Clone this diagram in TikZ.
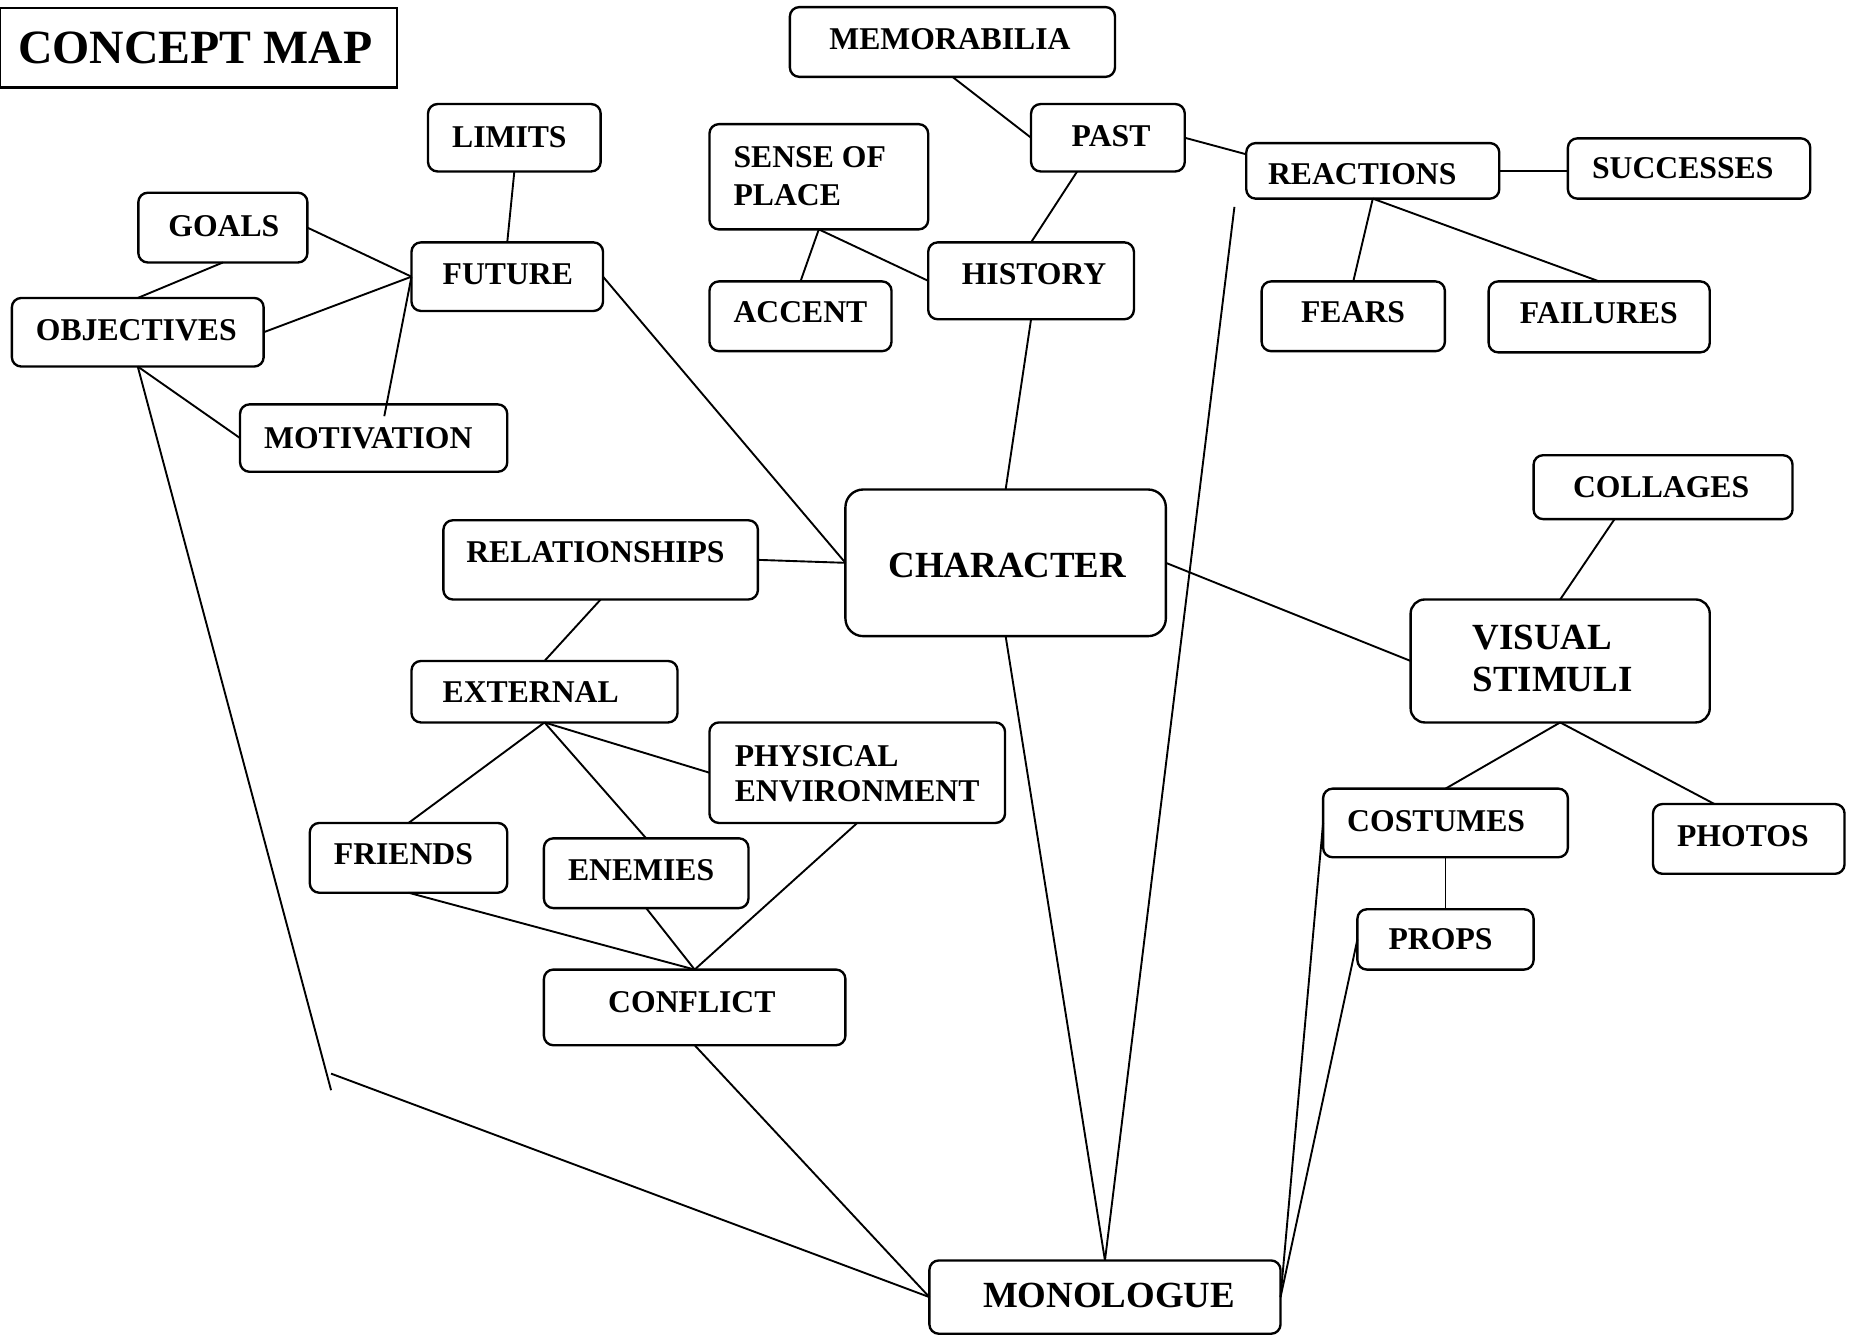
\documentclass[tikz,border=0pt]{standalone}
\usepackage{fontspec}
\setmainfont{Liberation Serif}
\usetikzlibrary{calc}
\tikzset{
  cbox/.style={draw, line width=1pt, rounded corners=4pt, inner sep=0pt, outer sep=0pt},
  lbl/.style={anchor=base west, inner sep=0pt, font=\bfseries\fontsize{13.4}{16}\selectfont},
  biglbl/.style={anchor=base west, inner sep=0pt, font=\bfseries\fontsize{15.6}{18}\selectfont},
  titlelbl/.style={anchor=base west, inner sep=0pt, font=\bfseries\fontsize{20.2}{24}\selectfont},
  conn/.style={line width=0.8pt},
}
\newcommand\cb[6][]{\node[cbox,#1,minimum width={(#5-#3)*0.5pt},minimum height={(#6-#4)*0.5pt}] (#2) at ({(#3+#5)/2},{(#4+#6)/2}) {};}
\begin{document}
\begin{tikzpicture}[x=0.5pt,y=-0.5pt]
\useasboundingbox (0,0) rectangle (1568,1129);
% boxes
\cb[sharp corners]{title}{0}{7}{336}{74}
\cb{limits}{362}{88}{508}{145}
\cb{goals}{117}{163}{260}{222}
\cb{future}{348}{205}{510}{263}
\cb{objectives}{10}{252}{223}{310}
\cb{motivation}{203}{342}{429}{399}
\cb{memorabilia}{668}{6}{943}{65}
\cb{past}{872}{88}{1002}{145}
\cb{sense}{600}{105}{785}{194}
\cb{accent}{600}{238}{754}{297}
\cb{history}{785}{205}{959}{270}
\cb{reactions}{1054}{121}{1268}{168}
\cb{successes}{1326}{117}{1531}{168}
\cb{fears}{1067}{238}{1222}{297}
\cb{failures}{1259}{238}{1446}{298}
\cb[rounded corners=7.5pt]{character}{715}{414}{986}{538}
\cb{relationships}{375}{440}{641}{507}
\cb{external}{348}{559}{573}{611}
\cb{physical}{600}{611}{850}{696}
\cb{friends}{262}{696}{429}{755}
\cb{enemies}{460}{709}{633}{768}
\cb{conflict}{460}{820}{715}{884}
\cb{collages}{1297}{385}{1516}{439}
\cb[rounded corners=6pt]{visual}{1193}{507}{1446}{611}
\cb{costumes}{1119}{667}{1326}{725}
\cb{photos}{1398}{680}{1560}{739}
\cb{props}{1148}{769}{1297}{820}
\cb{monologue}{786}{1066}{1083}{1128}
% labels
\node[titlelbl] (title-t) at (15,54) {CONCEPT MAP};
\node[lbl] (limits-t) at (382,125) {LIMITS};
\node[lbl] (goals-t) at (142,200) {GOALS};
\node[lbl] (future-t) at (374,241) {FUTURE};
\node[lbl] (objectives-t) at (30,288) {OBJECTIVES};
\node[lbl] (motivation-t) at (223,379) {MOTIVATION};
\node[lbl] (memorabilia-t) at (701,42) {MEMORABILIA};
\node[lbl] (past-t) at (906,124) {PAST};
\node[lbl] (sense-t1) at (620,142) {SENSE OF};
\node[lbl] (sense-t2) at (620,174) {PLACE};
\node[lbl] (accent-t) at (620,273) {ACCENT};
\node[lbl] (history-t) at (813,241) {HISTORY};
\node[lbl] (reactions-t) at (1072,156) {REACTIONS};
\node[lbl] (successes-t) at (1346,151) {SUCCESSES};
\node[lbl] (fears-t) at (1100,273) {FEARS};
\node[lbl] (failures-t) at (1285,274) {FAILURES};
\node[biglbl] (character-t) at (751,488) {CHARACTER};
\node[lbl] (relationships-t) at (394,476) {RELATIONSHIPS};
\node[lbl] (external-t) at (374,594) {EXTERNAL};
\node[lbl] (physical-t1) at (621,648) {PHYSICAL};
\node[lbl] (physical-t2) at (621,678) {ENVIRONMENT};
\node[lbl] (friends-t) at (282,731) {FRIENDS};
\node[lbl] (enemies-t) at (480,745) {ENEMIES};
\node[lbl] (conflict-t) at (514,856) {CONFLICT};
\node[lbl] (collages-t) at (1330,421) {COLLAGES};
\node[biglbl] (visual-t1) at (1245,549) {VISUAL};
\node[biglbl] (visual-t2) at (1245,585) {STIMULI};
\node[lbl] (costumes-t) at (1139,703) {COSTUMES};
\node[lbl] (photos-t) at (1418,716) {PHOTOS};
\node[lbl] (props-t) at (1174,803) {PROPS};
\node[biglbl] (monologue-t) at (831,1106) {MONOLOGUE};
% free ends
\coordinate (free1) at (280,922);
\coordinate (free2) at (280,908);
\coordinate (free3) at (1044,175);
% connectors
\draw[conn] (limits.south) -- (future.north);
\draw[conn] (goals.east) -- (future.west);
\draw[conn] (goals.south) -- (objectives.north);
\draw[conn] (objectives.east) -- (future.west);
\draw[conn] (future.west) -- ($(motivation.north)+(9,10)$);
\draw[conn] (objectives.south) -- (motivation.west);
\draw[conn] (objectives.south) -- (free1);
\draw[conn] (free2) -- (monologue.west);
\draw[conn] (future.east) -- (character.west);
\draw[conn] (relationships.east) -- (character.west);
\draw[conn] (relationships.south) -- (external.north);
\draw[conn] (external.south) -- (friends.north);
\draw[conn] (external.south) -- (enemies.north);
\draw[conn] (external.south) -- (physical.west);
\draw[conn] (friends.south) -- (conflict.north);
\draw[conn] (enemies.south) -- (conflict.north);
\draw[conn] (physical.south) -- (conflict.north);
\draw[conn] (conflict.south) -- (monologue.west);
\draw[conn] (character.south) -- (monologue.north);
\draw[conn] (history.south) -- (character.north);
\draw[conn] (free3) -- (monologue.north);
\draw[conn] (character.east) -- (visual.west);
\draw[conn] ($(collages.south)+(-41,0)$) -- (visual.north);
\draw[conn] (visual.south) -- (costumes.north);
\draw[conn] (visual.south) -- ($(photos.north)+(-29,0)$);
\draw[conn] (costumes.south) -- (props.north);
\draw[conn] (costumes.west) -- (monologue.east);
\draw[conn] (props.west) -- (monologue.east);
\draw[conn] (memorabilia.south) -- (past.west);
\draw[conn] ($(past.south)+(-26,0)$) -- (history.north);
\draw[conn] (past.east) -- ($(reactions.west)+(0,-14)$);
\draw[conn] (sense.south) -- (accent.north);
\draw[conn] (sense.south) -- (history.west);
\draw[conn] (reactions.east) -- (reactions.east -| successes.west);
\draw[conn] (reactions.south) -- (fears.north);
\draw[conn] (reactions.south) -- (failures.north);
\end{tikzpicture}
\end{document}
